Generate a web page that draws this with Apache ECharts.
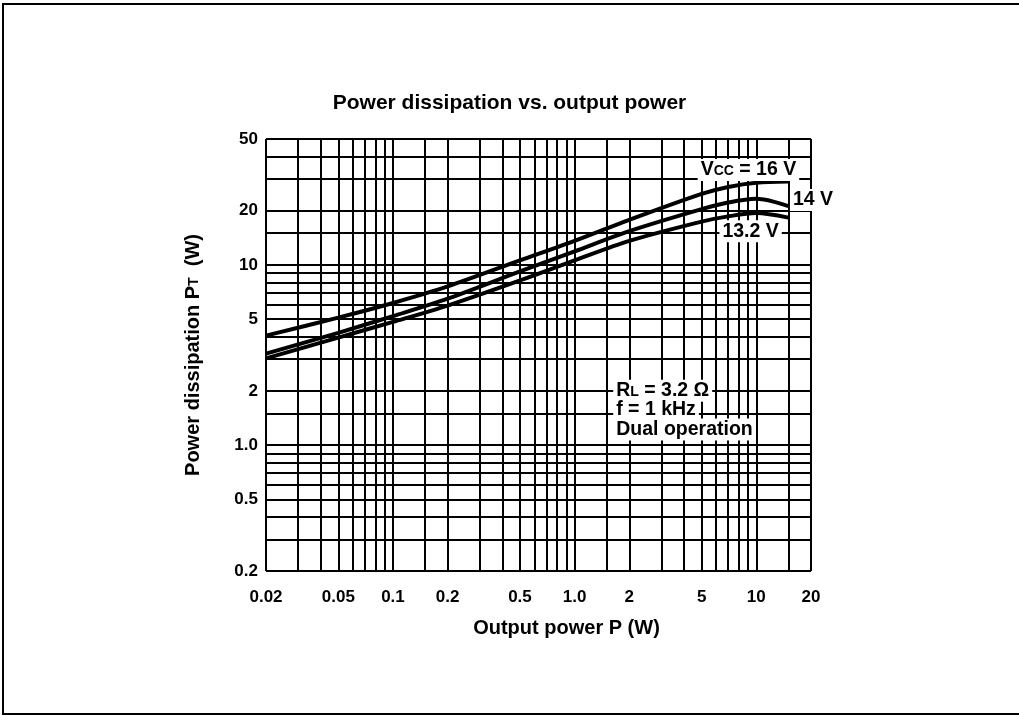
<!DOCTYPE html>
<html><head><meta charset="utf-8">
<script src="https://cdn.jsdelivr.net/npm/echarts@6/dist/echarts.min.js"></script>
<style>html,body{margin:0;padding:0;background:#fff}#c{width:1019px;height:716px}</style>
</head><body><div id="c"></div>
<script>
// ---- data ----
const outputPower = [0.02, 0.05, 0.1, 0.2, 0.5, 1, 2, 5, 7, 10, 15];
const pd16V   = [4.05, 5.1, 6.15, 7.6, 10.6, 13.6, 17.8, 24.8, 27.1, 28.6, 29.0];
const pd14V   = [3.22, 4.2, 5.2, 6.5, 9.2, 11.9, 15.4, 20.4, 22.2, 23.3, 21.2];
const pd13_2V = [3.03, 3.95, 4.83, 5.95, 8.2, 10.6, 13.6, 17.4, 18.6, 19.4, 18.3];
const xGridValues = [0.02,0.03,0.04,0.05,0.06,0.07,0.08,0.09,0.1,0.15,0.2,0.3,0.4,0.5,0.6,0.7,0.8,0.9,1,1.5,2,3,4,5,6,7,8,9,10,15,20];
const yGridValues = [0.2,0.3,0.4,0.5,0.6,0.7,0.8,0.9,1,1.5,2,3,4,5,6,7,8,9,10,15,20,30,40,50];
const xTickLabels = [0.02, 0.05, 0.1, 0.2, 0.5, 1, 2, 5, 10, 20];
const yTickLabels = [0.2, 0.5, 1, 2, 5, 10, 20, 50];

const FONT = "'Liberation Sans', Arial, Helvetica, sans-serif";
const fmt = v => (v === 1 ? '1.0' : String(v));
const pair = (xs, ys) => xs.map((x, i) => [x, ys[i]]);

const gridLines = [];
xGridValues.forEach(v => {
  gridLines.push({
    xAxis: v, name: fmt(v),
    label: { show: xTickLabels.includes(v), position: 'start', distance: 18, formatter: '{b}',
             fontSize: 17, fontWeight: 'bold', fontFamily: FONT, color: '#000' }
  });
});
yGridValues.forEach(v => {
  gridLines.push({
    yAxis: v, name: fmt(v),
    label: { show: yTickLabels.includes(v), position: 'start', distance: 8, formatter: '{b}',
             fontSize: 17, fontWeight: 'bold', fontFamily: FONT, color: '#000' }
  });
});

const annLabel = (extra) => Object.assign({
  show: true, color: '#000', fontFamily: FONT, fontSize: 19.5, fontWeight: 'bold',
  backgroundColor: '#fff', padding: [1, 3],
  rich: { s: { fontSize: 14, fontWeight: 'bold', fontFamily: FONT, color: '#000',
               verticalAlign: 'bottom', padding: [0, 0, 2, 0] } }
}, extra);

const curve = (name, data) => ({
  name, type: 'line', data, smooth: 0.3, showSymbol: false, z: 3,
  lineStyle: { color: '#000', width: 4 }, silent: true
});

const chart = echarts.init(document.getElementById('c'), null, { renderer: 'canvas' });
chart.setOption({
  animation: false,
  backgroundColor: '#fff',
  title: {
    text: 'Power dissipation vs. output power', left: 'center', top: 88,
    textStyle: { fontFamily: FONT, fontSize: 21, fontWeight: 'bold', color: '#000' }
  },
  grid: { left: 266, top: 139, right: 208, bottom: 145 },
  xAxis: {
    type: 'log', logBase: 10, min: 0.02, max: 20,
    name: 'Output power P (W)', nameLocation: 'middle', nameGap: 47,
    nameTextStyle: { fontFamily: FONT, fontSize: 20, fontWeight: 'bold', color: '#000', padding: [0, 0, 0, 56] },
    axisLine: { show: false }, axisTick: { show: false }, axisLabel: { show: false },
    splitLine: { show: false }, minorSplitLine: { show: false }
  },
  yAxis: {
    type: 'log', logBase: 10, min: 0.2, max: 50,
    name: 'Power dissipation P{s|T}  (W)', nameLocation: 'middle', nameGap: 63,
    nameTextStyle: { fontFamily: FONT, fontSize: 20, fontWeight: 'bold', color: '#000',
      rich: { s: { fontFamily: FONT, fontSize: 14, fontWeight: 'bold', color: '#000',
                   verticalAlign: 'bottom', padding: [0, 0, 2, 0] } } },
    axisLine: { show: false }, axisTick: { show: false }, axisLabel: { show: false },
    splitLine: { show: false }, minorSplitLine: { show: false }
  },
  series: [
    {
      name: 'grid', type: 'line', data: [], z: 1, silent: true,
      markLine: {
        silent: true, symbol: ['none', 'none'], animation: false,
        lineStyle: { color: '#000', width: 2, type: 'solid' },
        emphasis: { disabled: true },
        data: gridLines
      }
    },
    curve('16 V', pair(outputPower, pd16V)),
    curve('14 V', pair(outputPower, pd14V)),
    curve('13.2 V', pair(outputPower, pd13_2V)),
    {
      name: 'notes', type: 'line', data: [], z: 6, silent: true,
      markPoint: {
        silent: true, symbol: 'rect', symbolSize: 1, itemStyle: { color: 'rgba(0,0,0,0)' },
        animation: false,
        data: [
          { coord: [9.05, 33.6], label: annLabel({ position: 'inside', formatter: 'V{s|CC} = 16 V' }) },
          { coord: [20, 22.9], label: annLabel({ position: 'inside', formatter: '14 V', offset: [2, 0] }) },
          { coord: [9.3, 15.4], label: annLabel({ position: 'inside', formatter: '13.2 V' }) },
          { coord: [1.62, 2.0], label: annLabel({ position: 'right', distance: 0, formatter: 'R{s|L} = 3.2 Ω' }) },
          { coord: [1.62, 1.57], label: annLabel({ position: 'right', distance: 0, formatter: 'f = 1 kHz' }) },
          { coord: [1.62, 1.22], label: annLabel({ position: 'right', distance: 0, formatter: 'Dual operation' }) }
        ]
      }
    }
  ],
  graphic: [
    { type: 'polyline', silent: true, shape: { points: [[1019, 4], [3, 4], [3, 714], [1019, 714]] },
      style: { stroke: '#000', lineWidth: 2, fill: null } }
  ]
});
</script></body></html>
